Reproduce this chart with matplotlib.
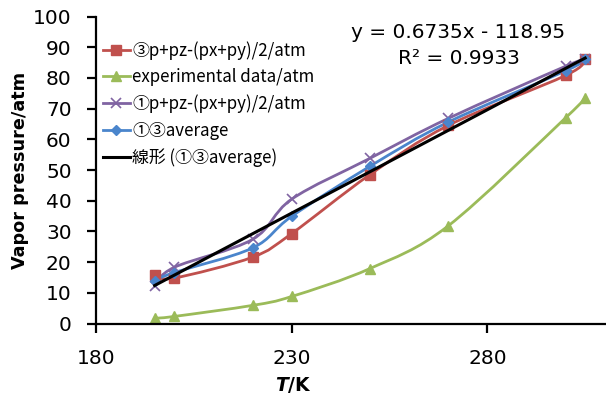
import numpy as np
import matplotlib
matplotlib.use('Agg')
import matplotlib.pyplot as plt
from matplotlib.path import Path
from matplotlib.patches import PathPatch
from matplotlib.lines import Line2D

plt.rcParams['font.family'] = ['DejaVu Sans', 'Noto Sans CJK JP']
plt.rcParams['mathtext.fontset'] = 'custom'
plt.rcParams['mathtext.it'] = 'DejaVu Sans:italic:bold'

# data
T = [195, 200, 220, 230, 250, 270, 300, 305]
p_3 = [15.7, 14.8, 21.6, 29.3, 48.5, 64.5, 80.8, 86.0]
p_exp = [1.7, 2.3, 5.9, 8.8, 17.9, 31.8, 67.0, 73.6]
p_1 = [12.3, 18.3, 27.4, 40.5, 53.8, 66.8, 83.8, 86.0]
p_avg = [14.0, 16.6, 24.6, 34.9, 51.2, 65.6, 82.3, 86.0]
slope, intercept = 0.6735, -118.95
r2 = 0.9933

labels = ['③p+pz-(px+py)/2/atm', 'experimental data/atm',
          '①p+pz-(px+py)/2/atm', '①③average', '線形 (①③average)']

RED, GREEN, PURPLE, BLUE = '#C0504D', '#9BBB59', '#8064A2', '#4A85CC'


def smooth_path(x, y):
    # Excel-style smoothed line (Catmull-Rom as cubic Bezier)
    pts = np.column_stack([x, y]).astype(float)
    n = len(pts)
    verts = [pts[0]]
    codes = [Path.MOVETO]
    for i in range(n - 1):
        p0 = pts[max(i - 1, 0)]
        p1 = pts[i]
        p2 = pts[i + 1]
        p3 = pts[min(i + 2, n - 1)]
        verts += [p1 + (p2 - p0) / 6, p2 - (p3 - p1) / 6, p2]
        codes += [Path.CURVE4] * 3
    return Path(verts, codes)


fig = plt.figure(figsize=(6.06, 4.03), dpi=100)
ax = fig.add_axes([96 / 606, 1 - 323.5 / 403, 587 / 606, 307 / 403])

series = [
    (p_3, RED, 's', 6.5, 1.0),
    (p_exp, GREEN, '^', 7, 1.0),
    (p_1, PURPLE, 'x', 7, 1.2),
    (p_avg, BLUE, 'D', 5, 1.0),
]
handles = []
for (vals, c, m, ms, mew), lab in zip(series, labels):
    ax.add_patch(PathPatch(smooth_path(T, vals), fill=False, edgecolor=c,
                           lw=2.0, capstyle='round', joinstyle='round'))
    ax.plot(T, vals, linestyle='none', marker=m, ms=ms, color=c, mew=mew)
    handles.append(Line2D([], [], color=c, lw=2.0, marker=m, ms=ms, mew=mew))

tx = np.array([min(T), max(T)])
ax.plot(tx, slope * tx + intercept, color='black', lw=2.2)
handles.append(Line2D([], [], color='black', lw=2.2))

ax.set_xlim(180, 330)
ax.set_ylim(0, 100)
ax.set_xticks([180, 230, 280])
ax.set_yticks(range(0, 101, 10))
for s in ['top', 'right']:
    ax.spines[s].set_visible(False)
for s in ['left', 'bottom']:
    ax.spines[s].set_linewidth(1.6)
ax.tick_params(axis='both', direction='out', length=6.5, width=1.6,
               labelsize=14.5, colors='black')
ax.tick_params(axis='y', pad=11)
ax.tick_params(axis='x', pad=12)

leg = ax.legend(handles, labels, loc='upper left', frameon=False,
                bbox_to_anchor=(0.0, 0.942), borderaxespad=0,
                prop={'family': ['Noto Sans CJK JP', 'DejaVu Sans'],
                      'size': 12.2},
                handlelength=1.6, handletextpad=0.15, labelspacing=0.5)

fig.text(458 / 606, 1 - 32 / 403, f'y = {slope}x - {abs(intercept)}',
         ha='center', va='center', fontsize=14.5)
fig.text(459 / 606, 1 - 59 / 403, f'R² = {r2}',
         ha='center', va='center', fontsize=14.5)

fig.text(20 / 606, 1 - 170 / 403, 'Vapor pressure/atm', rotation=90,
         ha='center', va='center', fontsize=12.7, fontweight='bold')
fig.text(293 / 606, 1 - 385 / 403, r'$T$/K', ha='center', va='center',
         fontsize=13.5, fontweight='bold')

fig.savefig('out.png', dpi=100)
